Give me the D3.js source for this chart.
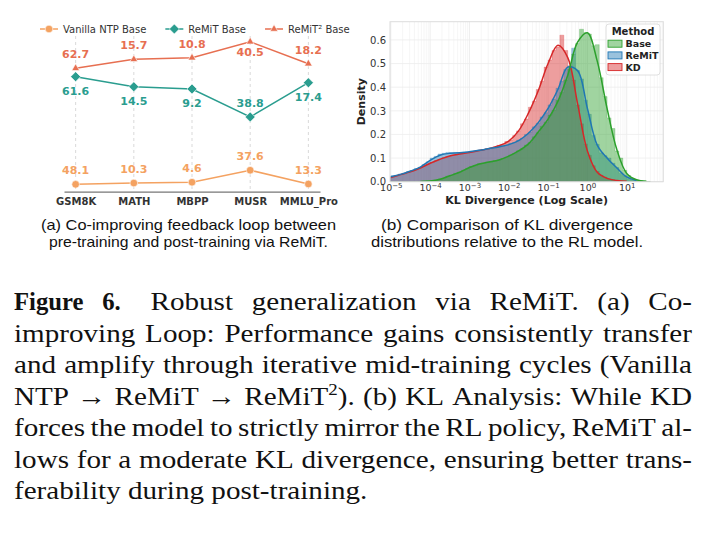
<!DOCTYPE html>
<html>
<head>
<meta charset="utf-8">
<script src="https://cdn.jsdelivr.net/npm/d3@7"></script>
<style>
  body { margin: 0; background: #fff; }
  svg { display: block; }
</style>
</head>
<body>
<svg id="fig" width="709" height="533"></svg>
<script>
// ---------- (a) co-improving loop
const benchmarks = ['GSM8K', 'MATH', 'MBPP', 'MUSR', 'MMLU_Pro'];
const seriesNames = ['Vanilla NTP Base', 'ReMiT Base', 'ReMiT\u00B2 Base'];
const vanillaScore = [48.1, 10.3, 4.6, 37.6, 13.3];
const remitScore = [61.6, 14.5, 9.2, 38.8, 17.4];
const remit2Score = [62.7, 15.7, 10.8, 40.5, 18.2];
// height each point is drawn at (normalised per benchmark, 0-100)
const vanillaLevel = [4.8, 5.6, 6.1, 13.6, 5.0];
const remitLevel = [72.1, 65.8, 64.4, 46.9, 68.3];
const remit2Level = [77.3, 82.9, 83.9, 93.9, 80.2];

// ---------- (b) KL divergence distributions
const methods = ['Base', 'ReMiT', 'KD'];
const binLo = -5.1;  // log10(KL) of first bin edge
const binW = 0.1;    // bin width, decades
const baseHist = [0,0,0,0,0,0,0,0,0.001,0.002,
  0.003,0.004,0.006,0.011,0.015,0.023,0.027,0.035,0.04,0.049,
  0.055,0.064,0.068,0.076,0.078,0.083,0.084,0.089,0.091,0.098,
  0.103,0.113,0.119,0.131,0.139,0.155,0.166,0.19,0.207,0.235,
  0.252,0.282,0.302,0.345,0.377,0.43,0.476,0.54,0.585,0.645,
  0.63,0.625,0.575,0.58,0.44,0.36,0.27,0.225,0.13,0.1,
  0.048,0.026,0.012,0.007,0.004,0.002,0.001];
const remitHist = [0.02,0.025,0.027,0.033,0.036,0.043,0.047,0.056,0.061,0.073,
  0.084,0.1,0.107,0.117,0.12,0.124,0.123,0.124,0.122,0.125,
  0.125,0.129,0.129,0.134,0.135,0.14,0.14,0.145,0.146,0.152,
  0.155,0.162,0.166,0.176,0.183,0.2,0.21,0.232,0.247,0.274,
  0.292,0.325,0.35,0.395,0.425,0.475,0.49,0.565,0.47,0.435,
  0.345,0.285,0.195,0.158,0.122,0.11,0.1,0.078,0.06,0.036,
  0.025,0.013,0.008,0.004,0.002,0.001,0];
const kdHist = [0.015,0.02,0.024,0.031,0.034,0.041,0.046,0.051,0.059,0.065,
  0.075,0.081,0.089,0.094,0.102,0.106,0.112,0.113,0.119,0.12,
  0.124,0.125,0.13,0.131,0.136,0.137,0.143,0.146,0.154,0.157,
  0.17,0.176,0.195,0.215,0.245,0.265,0.315,0.34,0.39,0.425,
  0.485,0.515,0.555,0.57,0.62,0.555,0.49,0.43,0.325,0.245,
  0.16,0.112,0.068,0.044,0.027,0.019,0.011,0.008,0.005,0.003,
  0.002,0.001,0,0,0,0,0];
const kdeLogKL = [-5,-4.75,-4.5,-4.25,-4,-3.75,-3.5,-3.25,-3,-2.75,-2.5,-2.25,-2,-1.75,
  -1.5,-1.25,-1,-0.75,-0.5,-0.25,0,0.25,0.5,0.75,1,1.25,1.5];
const baseKde = [null,null,null,0.001,0.003,0.01,0.025,0.04,0.06,0.075,0.083,0.092,0.108,0.13,
  0.16,0.21,0.265,0.34,0.45,0.59,0.63,0.51,0.31,0.135,0.035,0.008,0.002];
const remitKde = [0.021,0.031,0.045,0.062,0.09,0.112,0.12,0.122,0.127,0.133,0.14,0.147,0.157,0.174,
  0.205,0.25,0.31,0.39,0.485,0.47,0.31,0.155,0.1,0.058,0.02,0.005,null];
const kdKde = [0.018,0.03,0.042,0.058,0.078,0.095,0.109,0.117,0.124,0.132,0.14,0.152,0.172,0.215,
  0.29,0.385,0.5,0.577,0.525,0.33,0.13,0.04,0.014,0.005,0.002,null,null];
const densityTicks = [0, 0.1, 0.2, 0.3, 0.4, 0.5, 0.6];
const decadeExps = [-5, -4, -3, -2, -1, 0, 1];

const subcapA = ['(a) Co-improving feedback loop between', 'pre-training and post-training via ReMiT.'];
const subcapB = ['(b) Comparison of KL divergence', 'distributions relative to the RL model.'];
const captionLines = [
  'Figure 6.  Robust generalization via ReMiT. (a) Co-',
  'improving Loop: Performance gains consistently transfer',
  'and amplify through iterative mid-training cycles (Vanilla',
  'NTP \u2192 ReMiT \u2192 ReMiT^2). (b) KL Analysis: While KD',
  'forces the model to strictly mirror the RL policy, ReMiT al-',
  'lows for a moderate KL divergence, ensuring better trans-',
  'ferability during post-training.'
];

const svg = d3.select('#fig');
const sans = '"DejaVu Sans", sans-serif';

// ================= panel (a)
const xA = d3.scalePoint().domain(benchmarks).range([64, 320]).padding(0.2);
const yA = d3.scaleLinear().domain([0, 100]).range([192, 32]);
const gA = svg.append('g').attr('font-family', sans);

gA.selectAll('line.vgrid').data(benchmarks).join('line')
  .attr('class', 'vgrid')
  .attr('x1', d => xA(d)).attr('x2', d => xA(d))
  .attr('y1', 36).attr('y2', 191.7)
  .attr('stroke', '#cfcfcf').attr('stroke-width', 0.8).attr('stroke-dasharray', '3,3');

const axA = gA.append('g').attr('transform', 'translate(0,191.7)')
  .call(d3.axisBottom(xA).tickSize(0).tickSizeOuter(0).tickPadding(6));
axA.attr('font-family', sans).attr('font-size', 10);
axA.select('.domain').attr('stroke', '#777').attr('stroke-width', 1.2);
axA.selectAll('.tick text').attr('font-weight', 'bold').attr('fill', '#333');

const seriesA = [
  { name: seriesNames[0], level: vanillaLevel, score: vanillaScore, color: '#F4A261',
    symbol: d3.symbolCircle, size: 46, rotate: 0, side: [-1, -1, -1, -1, -1] },
  { name: seriesNames[1], level: remitLevel, score: remitScore, color: '#2A9D8F',
    symbol: d3.symbolSquare, size: 50, rotate: 45, side: [1, 1, 1, -1, 1] },
  { name: seriesNames[2], level: remit2Level, score: remit2Score, color: '#E76F51',
    symbol: d3.symbolTriangle, size: 26, rotate: 0, side: [-1, -1, -1, 0.75, -1] }
];

const lineA = d3.line().x((d, i) => xA(benchmarks[i])).y(d => yA(d));
seriesA.forEach(s => {
  const g = gA.append('g');
  g.append('path').attr('d', lineA(s.level))
    .attr('fill', 'none').attr('stroke', s.color).attr('stroke-width', 1.5);
  g.selectAll('path.mk').data(s.level).join('path')
    .attr('class', 'mk')
    .attr('d', d3.symbol(s.symbol, s.size)())
    .attr('transform', (d, i) => `translate(${xA(benchmarks[i])},${yA(d)}) rotate(${s.rotate})`)
    .attr('fill', s.color).attr('stroke', '#fff').attr('stroke-width', 0.6);
  g.selectAll('text').data(s.score).join('text')
    .attr('x', (d, i) => xA(benchmarks[i]))
    .attr('y', (d, i) => yA(s.level[i]) + s.side[i] * 14)
    .attr('dy', '0.36em')
    .attr('text-anchor', 'middle')
    .attr('font-size', 11).attr('font-weight', 'bold')
    .attr('fill', s.color)
    .text(d => d.toFixed(1));
});

// legend (a)
const legA = gA.append('g').attr('font-size', 10).attr('fill', '#333');
let lx = 40;
seriesA.forEach(s => {
  legA.append('line').attr('x1', lx).attr('x2', lx + 18).attr('y1', 29).attr('y2', 29)
    .attr('stroke', s.color).attr('stroke-width', 1.5);
  legA.append('path').attr('d', d3.symbol(s.symbol, s.size)())
    .attr('transform', `translate(${lx + 9},29) rotate(${s.rotate})`)
    .attr('fill', s.color).attr('stroke', '#fff').attr('stroke-width', 0.6);
  const t = legA.append('text').attr('x', lx + 23).attr('y', 29).attr('dy', '0.36em').text(s.name);
  lx += 23 + t.node().getComputedTextLength() + 19;
});

// ================= panel (b)
const xB = d3.scaleLog().domain([Math.pow(10, -5.02), Math.pow(10, 1.93)]).range([390, 663.3]);
const yB = d3.scaleLinear().domain([0, 0.677]).range([181.7, 21.7]);
const gB = svg.append('g').attr('font-family', sans);

svg.append('clipPath').attr('id', 'plotB').append('rect')
  .attr('x', 390).attr('y', 21.7).attr('width', 273.3).attr('height', 160);

// grid
const minorTicks = [];
decadeExps.concat([-6]).forEach(e => d3.range(2, 10).forEach(k => {
  const v = k * Math.pow(10, e);
  if (v > xB.domain()[0] && v < xB.domain()[1]) minorTicks.push(v);
}));
gB.selectAll('line.minor').data(minorTicks).join('line')
  .attr('x1', d => xB(d)).attr('x2', d => xB(d)).attr('y1', 21.7).attr('y2', 181.7)
  .attr('stroke', '#f2f2f2').attr('stroke-width', 0.7);
gB.selectAll('line.major').data(decadeExps).join('line')
  .attr('x1', d => xB(Math.pow(10, d))).attr('x2', d => xB(Math.pow(10, d)))
  .attr('y1', 21.7).attr('y2', 181.7)
  .attr('stroke', '#e8e8e8').attr('stroke-width', 0.8);
gB.selectAll('line.hgrid').data(densityTicks).join('line')
  .attr('x1', 390).attr('x2', 663.3).attr('y1', d => yB(d)).attr('y2', d => yB(d))
  .attr('stroke', '#ececec').attr('stroke-width', 0.8);

const methodStyle = {
  Base: { hist: baseHist, kde: baseKde, color: '#2ca02c' },
  ReMiT: { hist: remitHist, kde: remitKde, color: '#1f77b4' },
  KD: { hist: kdHist, kde: kdKde, color: '#d62728' }
};

const plotB = gB.append('g').attr('clip-path', 'url(#plotB)');
const areaB = d3.area().curve(d3.curveStepAfter)
  .x(d => xB(Math.pow(10, d[0]))).y0(yB(0)).y1(d => yB(d[1]));
const kdeLine = d3.line().defined(d => d[1] != null).curve(d3.curveCatmullRom.alpha(0.5))
  .x(d => xB(Math.pow(10, d[0]))).y(d => yB(Math.max(0, d[1])));

// drawn back to front: KD, ReMiT, Base
methods.slice().reverse().forEach(m => {
  const st = methodStyle[m];
  const pts = st.hist.map((v, i) => [binLo + i * binW, v]);
  pts.push([binLo + st.hist.length * binW, st.hist[st.hist.length - 1]]);
  plotB.append('path').attr('d', areaB(pts))
    .attr('fill', st.color).attr('fill-opacity', 0.45)
    .attr('stroke', st.color).attr('stroke-opacity', 0.35).attr('stroke-width', 0.7);
});
methods.slice().reverse().forEach(m => {
  const st = methodStyle[m];
  plotB.append('path').attr('d', kdeLine(kdeLogKL.map((x, i) => [x, st.kde[i]])))
    .attr('fill', 'none').attr('stroke', st.color).attr('stroke-width', 1.5);
});

// frame
gB.append('rect').attr('x', 390).attr('y', 21.7).attr('width', 273.3).attr('height', 160)
  .attr('fill', 'none').attr('stroke', '#dcdcdc').attr('stroke-width', 1);

// axes
const ayB = gB.append('g').attr('transform', 'translate(390,0)')
  .call(d3.axisLeft(yB).tickValues(densityTicks).tickFormat(d3.format('.1f')).tickSize(0).tickPadding(4));
ayB.attr('font-family', sans).attr('font-size', 10);
ayB.select('.domain').remove();
ayB.selectAll('.tick text').attr('fill', '#333');

const axB = gB.append('g').attr('transform', `translate(0,${yB(0)})`)
  .call(d3.axisBottom(xB).tickValues(decadeExps.map(e => Math.pow(10, e)))
    .tickFormat('').tickSize(0).tickPadding(3));
axB.attr('font-family', sans).attr('font-size', 9.5);
axB.select('.domain').remove();
axB.selectAll('.tick text').attr('fill', '#333').each(function(d, i) {
  const e = decadeExps[i];
  const t = d3.select(this);
  t.append('tspan').text('10');
  t.append('tspan').attr('dy', '-0.45em').attr('font-size', 7)
    .text(e < 0 ? '\u2212' + (-e) : String(e));
});

gB.append('text').attr('x', 526.7).attr('y', 204).attr('text-anchor', 'middle')
  .attr('font-size', 11).attr('font-weight', 'bold').attr('fill', '#222')
  .text('KL Divergence (Log Scale)');
gB.append('text').attr('transform', 'translate(364.5,101.7) rotate(-90)').attr('text-anchor', 'middle')
  .attr('font-size', 11).attr('font-weight', 'bold').attr('fill', '#222').text('Density');

// legend (b)
const legB = gB.append('g');
legB.append('rect').attr('x', 606).attr('y', 24).attr('width', 54).attr('height', 51).attr('rx', 3)
  .attr('fill', '#fff').attr('fill-opacity', 0.85).attr('stroke', '#d8d8d8').attr('stroke-width', 0.8);
legB.append('text').attr('x', 633).attr('y', 31.7).attr('dy', '0.36em').attr('text-anchor', 'middle')
  .attr('font-size', 10).attr('font-weight', 'bold').attr('fill', '#222').text('Method');
methods.forEach((m, i) => {
  const y = 43.7 + i * 11.7;
  legB.append('rect').attr('x', 608).attr('y', y - 3.5).attr('width', 14).attr('height', 7)
    .attr('fill', methodStyle[m].color).attr('fill-opacity', 0.45)
    .attr('stroke', methodStyle[m].color).attr('stroke-width', 0.9);
  legB.append('text').attr('x', 625.5).attr('y', y).attr('dy', '0.36em')
    .attr('font-size', 9.5).attr('font-weight', 'bold').attr('fill', '#222').text(m);
});

// ================= sub captions
const subG = svg.append('g').attr('font-family', '"Liberation Sans", Arial, sans-serif')
  .attr('font-size', 15).attr('fill', '#111').attr('text-anchor', 'middle');
[[subcapA, 188.5, [295, 279]], [subcapB, 507, [252, 272]]].forEach(([lines, cx, lens]) => {
  lines.forEach((s, i) => {
    subG.append('text').attr('x', cx).attr('y', 230 + i * 17)
      .attr('textLength', lens[i]).attr('lengthAdjust', 'spacingAndGlyphs').text(s);
  });
});

// ================= figure caption (justified)
const capG = svg.append('g').attr('font-family', '"Liberation Serif", "Times New Roman", serif')
  .attr('font-size', 26).attr('fill', '#111');
const capLeft = 14, capRight = 692, capTop = 310, capLead = 31.5;
const regStretch = 1.12, boldStretch = 0.95;
captionLines.forEach((line, li) => {
  const y = capTop + li * capLead;
  const parts = line.split(/( +)/);
  const words = [], gaps = [];
  parts.forEach((p, i) => { if (i % 2 === 0) words.push(p); else gaps.push(p.length > 1 ? 1.6 : 1); });
  const stretch = [];
  const nodes = words.map((w, wi) => {
    const t = capG.append('text');
    const bold = li === 0 && wi < 2;
    if (bold) t.attr('font-weight', 'bold');
    stretch.push(bold ? boldStretch : regStretch);
    const m = w.match(/^(.*)\^(\d)(.*)$/);
    if (m) {
      t.append('tspan').text(m[1]);
      t.append('tspan').attr('dy', -10).attr('font-size', 17).text(m[2]);
      t.append('tspan').attr('dy', 10).text(m[3]);
    } else {
      t.text(w);
    }
    return t;
  });
  const widths = nodes.map((t, i) => t.node().getComputedTextLength() * stretch[i]);
  const lastLine = li === captionLines.length - 1;
  const unit = lastLine ? 26 * 0.25 * regStretch : (capRight - capLeft - d3.sum(widths)) / d3.sum(gaps);
  let x = capLeft;
  nodes.forEach((t, i) => {
    t.attr('transform', `translate(${x},${y}) scale(${stretch[i]},1)`);
    x += widths[i] + (i < gaps.length ? gaps[i] * unit : 0);
  });
});
</script>
</body>
</html>
